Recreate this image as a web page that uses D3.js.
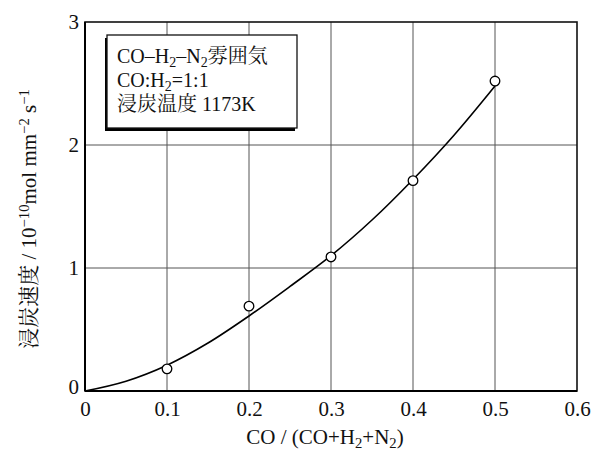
<!DOCTYPE html>
<html><head><meta charset="utf-8">
<script src="https://cdn.jsdelivr.net/npm/d3@7"></script>
<style>body{margin:0;background:#fff}svg{display:block}</style>
</head><body>
<svg id="c" width="600" height="451"></svg>
<script>
const xTicks = [0, 0.1, 0.2, 0.3, 0.4, 0.5, 0.6];
const yTicks = [0, 1, 2, 3];
const pointX = [0.1, 0.2, 0.3, 0.4, 0.5];
const pointY = [0.18, 0.69, 1.09, 1.71, 2.52];
const curveX = [0, 0.05, 0.1, 0.15, 0.2, 0.25, 0.3, 0.35, 0.4, 0.45, 0.5];
const curveY = [0, 0.08, 0.21, 0.39, 0.61, 0.85, 1.1, 1.39, 1.72, 2.08, 2.48];

const serif = "'Liberation Serif','Times New Roman','Noto Serif CJK JP','Noto Sans CJK JP',serif";
const svg = d3.select('#c');
const L = 85, R = 577, T = 22, B = 391;
const x = d3.scaleLinear().domain([0, 0.6]).range([L, R]);
const y = d3.scaleLinear().domain([0, 3]).range([B, T]);

// grid
svg.append('g').selectAll('line').data(xTicks.slice(1, -1)).join('line')
  .attr('x1', d => x(d)).attr('x2', d => x(d)).attr('y1', T).attr('y2', B)
  .attr('stroke', '#555').attr('stroke-width', 1);
svg.append('g').selectAll('line').data(yTicks.slice(1, -1)).join('line')
  .attr('y1', d => y(d)).attr('y2', d => y(d)).attr('x1', L).attr('x2', R)
  .attr('stroke', '#555').attr('stroke-width', 1);

// frame
svg.append('rect').attr('x', L).attr('y', T).attr('width', R - L).attr('height', B - T)
  .attr('fill', 'none').attr('stroke', '#111').attr('stroke-width', 1.6);
svg.append('line').attr('x1', L).attr('x2', L).attr('y1', T).attr('y2', B).attr('stroke', '#000').attr('stroke-width', 2);
svg.append('line').attr('x1', L).attr('x2', R).attr('y1', B).attr('y2', B).attr('stroke', '#000').attr('stroke-width', 2);

// axes labels via d3 axes
const ax = svg.append('g').attr('transform', `translate(0,${B})`)
  .call(d3.axisBottom(x).tickValues(xTicks).tickSize(0).tickPadding(10).tickFormat(d => d === 0 ? '0' : d3.format('.1f')(d)));
ax.select('.domain').remove();
ax.selectAll('text').attr('font-family', serif).attr('font-size', 21).attr('fill', '#111');
const ay = svg.append('g').attr('transform', `translate(${L},0)`)
  .call(d3.axisLeft(y).tickValues(yTicks).tickSize(0).tickPadding(6).tickFormat(d3.format('d')));
ay.select('.domain').remove();
ay.selectAll('text').attr('font-family', serif).attr('font-size', 21).attr('fill', '#111');
ay.selectAll('.tick').filter(d => d === 0).select('text').attr('dy', '0.1em');

// curve
const curveData = curveX.map((d, i) => [d, curveY[i]]);
svg.append('path').datum(curveData)
  .attr('d', d3.line().x(d => x(d[0])).y(d => y(d[1])).curve(d3.curveCatmullRom))
  .attr('fill', 'none').attr('stroke', '#000').attr('stroke-width', 1.6);

// points
svg.append('g').selectAll('circle').data(pointX.map((d, i) => [d, pointY[i]])).join('circle')
  .attr('cx', d => x(d[0])).attr('cy', d => y(d[1])).attr('r', 4.8)
  .attr('fill', '#fff').attr('stroke', '#000').attr('stroke-width', 1.3);

// legend box
const bx = 107, by = 35, bw = 190, bh = 93;
svg.append('rect').attr('x', bx - 2).attr('y', by + 3).attr('width', bw).attr('height', bh).attr('fill', '#000');
svg.append('rect').attr('x', bx).attr('y', by).attr('width', bw).attr('height', bh)
  .attr('fill', '#fff').attr('stroke', '#111').attr('stroke-width', 1.3);

function rich(parent, parts, attrs) {
  const t = parent.append('text').attr('font-family', serif).attr('fill', '#111');
  Object.entries(attrs).forEach(([k, v]) => t.attr(k, v));
  parts.forEach(p => {
    const s = t.append('tspan').text(p.t);
    if (p.sub) s.attr('baseline-shift', '-25%').attr('font-size', '70%');
    if (p.sup) s.attr('baseline-shift', '45%').attr('font-size', '70%');
    if (p.dx) s.attr('dx', p.dx);
  });
  return t;
}
const lg = svg.append('g');
rich(lg, [{t: 'CO–H'}, {t: '2', sub: 1}, {t: '–N'}, {t: '2', sub: 1}, {t: '雰囲気'}], {x: 117, y: 63, 'font-size': 20});
rich(lg, [{t: 'CO:H'}, {t: '2', sub: 1}, {t: '=1:1'}], {x: 117, y: 87, 'font-size': 20});
rich(lg, [{t: '浸炭温度 1173K'}], {x: 117, y: 111, 'font-size': 20});

// x title
rich(svg, [{t: 'CO / (CO+H'}, {t: '2', sub: 1}, {t: '+N'}, {t: '2', sub: 1}, {t: ')'}],
  {x: 325, y: 444, 'font-size': 21, 'text-anchor': 'middle'});

// y title
rich(svg, [{t: '浸炭速度  /  10'}, {t: '−10', sup: 1}, {t: 'mol mm'}, {t: '−2', sup: 1}, {t: ' s'}, {t: '−1', sup: 1}],
  {'font-size': 21, 'text-anchor': 'middle', transform: `translate(36,219) rotate(-90)`});
</script>
</body></html>
